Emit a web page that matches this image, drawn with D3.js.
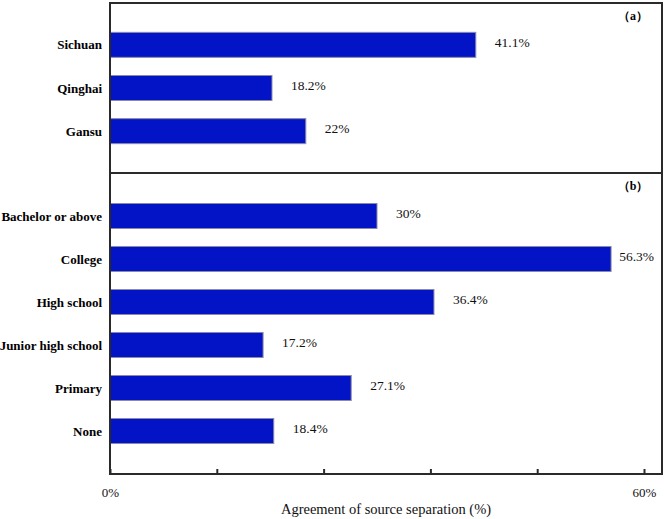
<!DOCTYPE html>
<html><head><meta charset="utf-8">
<script src="https://cdn.jsdelivr.net/npm/d3@7"></script>
<style>body{margin:0;background:#fff}svg{display:block}svg text{font-family:"Liberation Serif","Times New Roman",serif}</style>
</head><body>
<svg id="chart" width="664" height="519"></svg>
<script>
const regions = ["Sichuan", "Qinghai", "Gansu"];
const regionValues = [41.1, 18.2, 22];
const regionLabels = ["41.1%", "18.2%", "22%"];
const education = ["Bachelor or above", "College", "High school", "Junior high school", "Primary", "None"];
const educationValues = [30, 56.3, 36.4, 17.2, 27.1, 18.4];
const educationLabels = ["30%", "56.3%", "36.4%", "17.2%", "27.1%", "18.4%"];
const tickValues = [0, 12, 24, 36, 48, 60];
const tickLabels = {0: "0%", 60: "60%"};
const panelTags = ["（a）", "（b）"];
const xTitle = "Agreement of source separation (%)";

(function () {
const svg = d3.select("#chart");
const pLeft = 110, pRight = 662, pTop = 3, pMid = 173, pBottom = 474;
const barColor = "#0313c6";
const lineColor = "#2a2a2a";

const x = d3.scaleLinear().domain([0, 60]).range([pLeft, 644]);

function panel(cats, vals, labels, y0, y1, pad, tag) {
  const y = d3.scalePoint().domain(cats).range([y0, y1]).padding(pad);
  const bh = 25;
  const g = svg.append("g");
  g.selectAll("rect").data(cats).join("rect")
    .attr("x", x(0)).attr("y", d => y(d) - bh / 2)
    .attr("width", (d, i) => x(vals[i]) - x(0)).attr("height", bh)
    .attr("fill", barColor).attr("stroke", "#8a8aa8").attr("stroke-width", 1);
  g.selectAll("text.cat").data(cats).join("text").attr("class", "cat")
    .attr("x", pLeft - 8).attr("y", d => y(d)).attr("dy", "0.35em")
    .attr("text-anchor", "end").attr("font-weight", "bold")
    .attr("font-size", 13).attr("fill", "#000").text(d => d);
  g.selectAll("text.val").data(cats).join("text").attr("class", "val")
    .attr("y", d => y(d) - 3).attr("dy", "0.35em")
    .attr("font-size", 13.5).attr("fill", "#111")
    .text((d, i) => labels[i])
    .attr("x", function (d, i) {
      const w = this.getComputedTextLength();
      return Math.min(x(vals[i]) + 19, pRight - 8 - w);
    });
  g.append("text").attr("x", 633).attr("y", y0 + 17).attr("text-anchor", "middle")
    .attr("font-weight", "bold").attr("font-size", 12)
    .text(tag);
}

panel(regions, regionValues, regionLabels, pTop, pMid, 0.97, panelTags[0]);
panel(education, educationValues, educationLabels, pMid, pBottom, 1.0, panelTags[1]);

svg.append("rect").attr("x", pLeft).attr("y", pTop).attr("width", pRight - pLeft).attr("height", pBottom - pTop)
  .attr("fill", "none").attr("stroke", lineColor).attr("stroke-width", 2);
svg.append("line").attr("x1", pLeft).attr("x2", pRight).attr("y1", pMid).attr("y2", pMid)
  .attr("stroke", lineColor).attr("stroke-width", 2);

const axis = d3.axisBottom(x).tickValues(tickValues).tickSizeInner(-5).tickSizeOuter(0)
  .tickFormat(d => tickLabels[d] || "").tickPadding(14);
const ax = svg.append("g").attr("transform", `translate(0,${pBottom})`).call(axis);
ax.select(".domain").remove();
ax.attr("font-family", null);
ax.selectAll(".tick line").attr("stroke", lineColor).attr("stroke-width", 2);
ax.selectAll(".tick text").attr("font-size", 13).attr("fill", "#111");

svg.append("text").attr("x", (pLeft + pRight) / 2).attr("y", 514).attr("text-anchor", "middle")
  .attr("font-size", 14.5).attr("fill", "#111").text(xTitle);
})();
</script>
</body></html>
